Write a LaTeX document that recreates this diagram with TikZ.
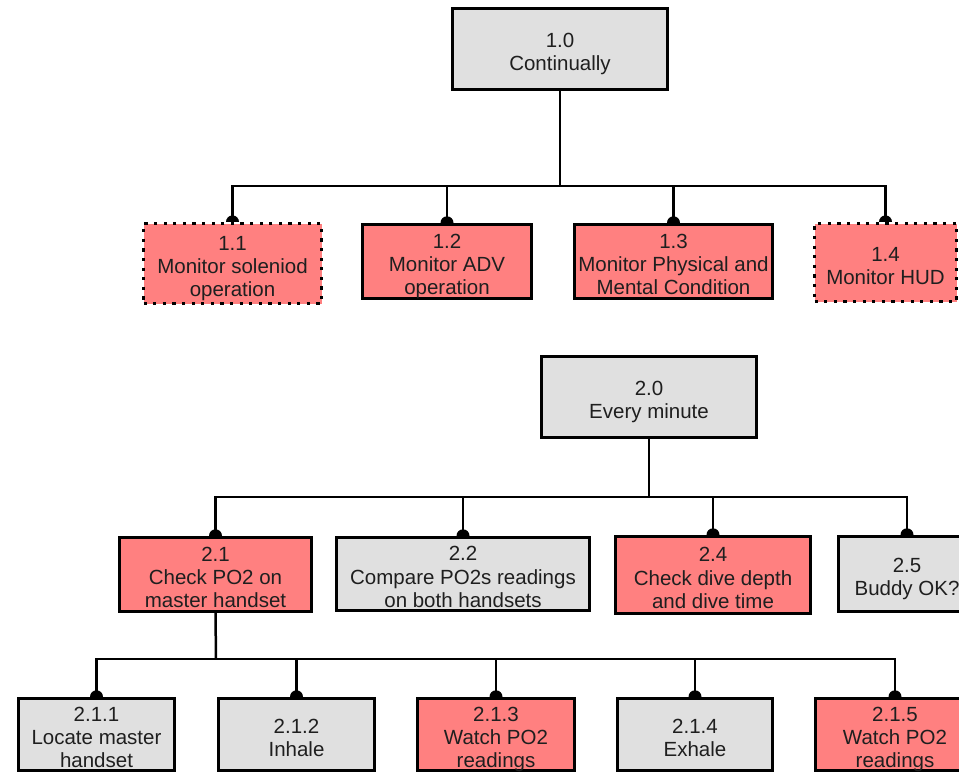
\documentclass[tikz,border=0pt]{standalone}
\usepackage{fontspec}
\setmainfont{Liberation Sans}
\definecolor{taskpink}{RGB}{255,128,128}
\definecolor{plangray}{RGB}{224,224,224}
% half-disc marking where a connector meets a child box
\newcommand\jointdot[1]{\fill (#1) ++(-6.5,0) arc[start angle=180,end angle=360,radius=6.5] -- cycle;}
% centred lines of a box label, set slightly below the box centre
\newcommand\boxtext[1]{\raisebox{-5.5pt}[\height][\depth]{\begin{tabular}{@{}c@{}}#1\end{tabular}}}
\begin{document}
\begin{tikzpicture}[x=1pt,y=-1pt,
  every node/.style={inner sep=0pt,
    font=\fontsize{20.5}{23.2}\selectfont, text=black!88},
  sz/.style 2 args={minimum width=#1, minimum height=#2},
  solidbox/.style={draw, line width=3.4pt},
  dotbox/.style={draw, line width=3.2pt, dash pattern=on 3.2pt off 6.4pt},
  task/.style={fill=taskpink},
  plan/.style={fill=plangray},
  conn/.style={line width=2.5pt},
]
\useasboundingbox (0,0) rectangle (959,774);

% ---- plan 1 ----
\node[solidbox, plan, sz={215}{81}] (p1) at (560,49) {\boxtext{1.0\\Continually}};
\node[dotbox, task, sz={178}{80}] (t11) at (232.5,263.5) {\boxtext{1.1\\Monitor soleniod\\operation}};
\node[solidbox, task, sz={169}{74}] (t12) at (447,261.5) {\boxtext{1.2\\Monitor ADV\\operation}};
\node[solidbox, task, sz={198}{74}] (t13) at (673.5,261.5) {\boxtext{1.3\\Monitor Physical and\\Mental Condition}};
\node[dotbox, task, sz={142}{78}] (t14) at (885.5,262.5) {\boxtext{1.4\\Monitor HUD}};

\coordinate (bar1) at (560,186);
\draw[conn] (p1.south) -- (bar1);
\foreach \c in {t11,t12,t13,t14} {
  \draw[conn] (bar1) -| (\c.north);
  \jointdot{\c.north}
}

% ---- plan 2 ----
\node[solidbox, plan, sz={215}{81}] (p2) at (649,397) {\boxtext{2.0\\Every minute}};
\node[solidbox, task, sz={192}{74}] (t21) at (215.5,574.5) {\boxtext{2.1\\Check PO2 on\\master handset}};
\node[solidbox, plan, sz={253}{73}] (t22) at (463,574) {\boxtext{2.2\\Compare PO2s readings\\on both handsets}};
\node[solidbox, task, sz={195}{77}] (t24) at (713,575) {\boxtext{2.4\\Check dive depth\\and dive time}};
\node[solidbox, plan, sz={137}{75}] (t25) at (907,574) {\boxtext{2.5\\Buddy OK?}};

\coordinate (bar2) at (649,497);
\draw[conn] (p2.south) -- (bar2);
\foreach \c in {t21,t22,t24,t25} {
  \draw[conn] (bar2) -| (\c.north);
  \jointdot{\c.north}
}

% ---- sub-plan 2.1 ----
\node[solidbox, plan, sz={156}{72}] (t211) at (96.5,734.5) {\boxtext{2.1.1\\Locate master\\handset}};
\node[solidbox, plan, sz={156}{72}] (t212) at (296.5,734.5) {\boxtext{2.1.2\\Inhale}};
\node[solidbox, task, sz={157}{72}] (t213) at (496,734.5) {\boxtext{2.1.3\\Watch PO2\\readings}};
\node[solidbox, plan, sz={155}{72}] (t214) at (695,734.5) {\boxtext{2.1.4\\Exhale}};
\node[solidbox, task, sz={159}{72}] (t215) at (895,734.5) {\boxtext{2.1.5\\Watch PO2\\readings}};

\coordinate (bar3) at (216,659);
\draw[conn] (t21.south) -- (bar3);
\foreach \c in {t211,t212,t213,t214,t215} {
  \draw[conn] (bar3) -| (\c.north);
  \jointdot{\c.north}
}
\end{tikzpicture}
\end{document}
